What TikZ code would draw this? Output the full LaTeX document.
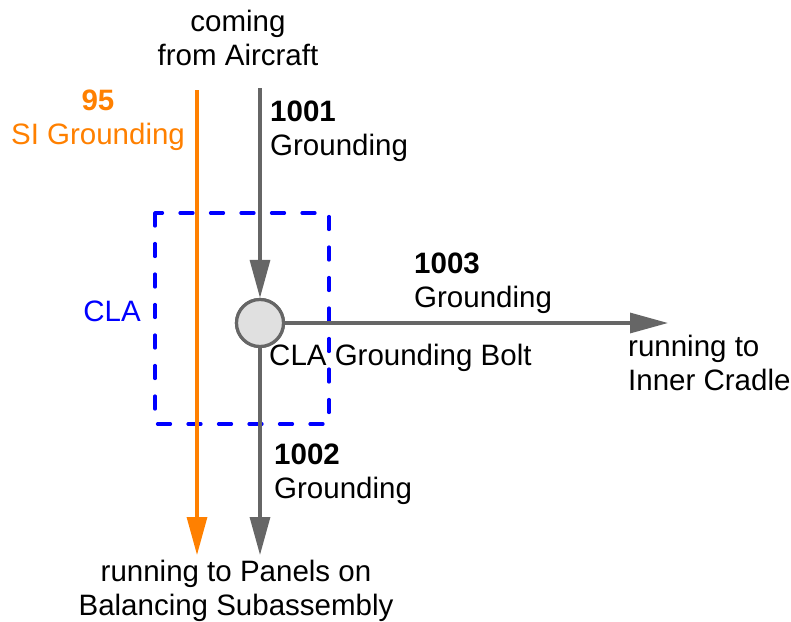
\documentclass[tikz,border=0pt]{standalone}
\usepackage{fontspec}
\setmainfont{Liberation Sans}
\usetikzlibrary{arrows.meta}
\definecolor{wiregray}{HTML}{666666}
\definecolor{wireorange}{HTML}{FF8000}
\definecolor{boltfill}{HTML}{E0E0E0}
\begin{document}
\begin{tikzpicture}[x=1pt,y=-1pt,
  txt/.style={inner sep=0pt, font=\fontsize{29.5}{34}\selectfont},
  wire/.style={draw=wiregray, line width=3.2pt, -{Triangle[length=38pt,width=20pt]}},
  owire/.style={draw=wireorange, line width=3.2pt, -{Triangle[length=38pt,width=20pt]}},
  boltnode/.style={circle, draw=wiregray, fill=boltfill, line width=3.2pt, minimum size=47pt, inner sep=0pt},
  clabox/.style={draw=blue, line width=3.2pt, line cap=round, dash pattern=on 13pt off 17.5pt}
]
\useasboundingbox (0,0) rectangle (791,621);
% CLA dashed box
\draw[clabox] (155,213) rectangle (329,424);
% coordinates
\coordinate (gtop) at (260,88);
\coordinate (otop) at (197,90);
\coordinate (oend) at (197,555);
\coordinate (gend) at (260,555);
\coordinate (rend) at (668,323);
\node[boltnode] (bolt) at (260,323) {};
% wires
\draw[owire] (otop) -- (oend);
\draw[wire] (gtop) -- (bolt.north);
\draw[wire] (bolt.south) -- (gend);
\draw[wire] (bolt.east) -- (rend);
\node[boltnode] at (bolt) {};
% labels (base anchor = baseline of the last line)
\node[txt, anchor=base, align=center] (air) at (238,65) {coming\\from Aircraft};
\node[txt, anchor=base west, align=left] (l1001) at (270,155) {\textbf{1001}\\Grounding};
\node[txt, anchor=base, align=center, text=wireorange] (l95) at (98,144) {\textbf{95}\\SI Grounding};
\node[txt, anchor=base east, text=blue] (cla) at (141,321) {CLA};
\node[txt, anchor=base west, align=left] (l1003) at (414,307) {\textbf{1003}\\Grounding};
\node[txt, anchor=base west] (boltlbl) at (269,365) {CLA Grounding Bolt};
\node[txt, anchor=base west, align=left] (inner) at (628,390) {running to\\Inner Cradle};
\node[txt, anchor=base west, align=left] (l1002) at (274,498) {\textbf{1002}\\Grounding};
\node[txt, anchor=base, align=center] (panels) at (236,615) {running to Panels on\\Balancing Subassembly};
\end{tikzpicture}
\end{document}
